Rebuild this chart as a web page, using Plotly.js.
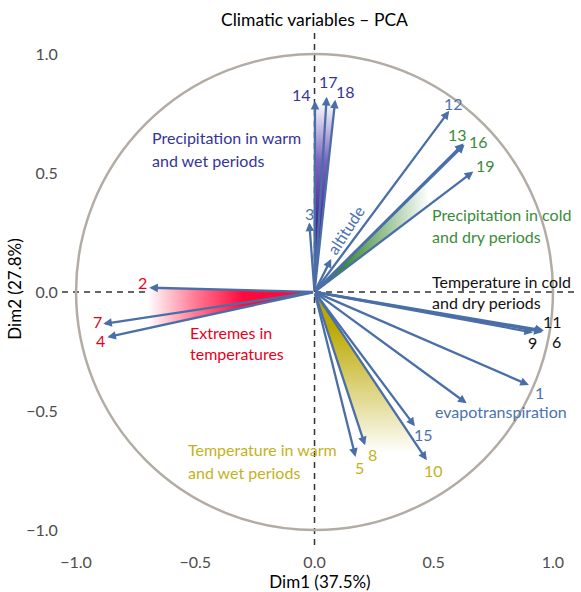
<!DOCTYPE html>
<html>
<head>
<meta charset="utf-8">
<script src="https://cdn.plot.ly/plotly-3.0.1.min.js"></script>
<style>html,body{margin:0;padding:0;background:#fff;}#chart{width:581px;height:592px;}</style>
</head>
<body>
<div id="chart"></div>
<script>
// ---- data ----
const varNames = ['1','2','3','4','5','6','7','8','9','10','11','12','13','14','15','16','17','18','19','altitude','evapotranspiration'];
const dim1 = [0.899,-0.693,-0.022,-0.869,0.172,0.957,-0.886,0.212,0.916,0.471,0.962,0.565,0.625,0.002,0.421,0.629,0.051,0.087,0.666,0.070,0.638];
const dim2 = [-0.391,0.018,0.292,-0.190,-0.693,-0.168,-0.134,-0.644,-0.170,-0.707,-0.162,0.761,0.624,0.803,-0.564,0.619,0.820,0.808,0.506,0.139,-0.468];
const varGroup = ['steel','red','steel','red','olive','black','red','olive','black','olive','black','steel','green','purple','steel','green','purple','purple','green','none','none'];
const xTickVals = [-1,-0.5,0,0.5,1];
const tickText = ['\u22121.0','\u22120.5','0.0','0.5','1.0'];
const yTickVals = [-1,-0.5,0,0.5,1];
const groupTexts = {
  purple: ['Precipitation in warm','and wet periods'],
  green: ['Precipitation in cold','and dry periods'],
  black: ['Temperature in cold','and dry periods'],
  red: ['Extremes in','temperatures'],
  olive: ['Temperature in warm','and wet periods']
};
const titleText = 'Climatic variables \u2013 PCA';
const xTitle = 'Dim1 (37.5%)';
const yTitle = 'Dim2 (27.8%)';

// ---- styles ----
const FONT = 'Lato, "Open Sans", sans-serif';
const colors = {steel:'#4A72AE', red:'#E8001C', olive:'#C4B21C', black:'#111111', green:'#3A8B3A', purple:'#35359A'};
const ARROW = '#4A6FA8';
// pixel offsets of the number labels from the arrow tips
const labelOffsets = {
  '1':[11,-7],'2':[-7,5],'3':[0,9],'4':[-7,-3],'5':[4,-11],'6':[14,-10],'7':[-6,2],'8':[7,-9],
  '9':[0,-10],'10':[7,-10],'11':[9,9],'12':[4,7],'13':[-6,9],'14':[-13,6],'15':[9,-8],
  '16':[14,3],'17':[2,15],'18':[10,8],'19':[12,6]
};
// pixel -> data helpers for free text placement
const X = px => (px - 314.5) / 238.5;
const Y = py => (292 - py) / 238;

const idx = n => varNames.indexOf(n);
const along = (n, f) => [dim1[idx(n)] * f, dim2[idx(n)] * f];
function poly(pts){ return {x: pts.map(p=>p[0]).concat([pts[0][0]]), y: pts.map(p=>p[1]).concat([pts[0][1]])}; }

const traces = [];
function gradTrace(pts, grad){
  const p = poly(pts);
  traces.push({type:'scatter', mode:'lines', x:p.x, y:p.y, fill:'toself', line:{width:0, color:'rgba(0,0,0,0)'},
    fillgradient:grad, hoverinfo:'skip', showlegend:false});
}
gradTrace([[0,0], along('2',1.0), along('4',0.80)],
  {type:'horizontal', start:-0.70, stop:-0.30, colorscale:[[0,'rgba(255,255,255,1)'],[0.5,'#FF7A94'],[1,'#FF0A3C']]});
gradTrace([[0,0], along('14',1.0), along('18',1.0)],
  {type:'vertical', start:0.30, stop:0.80, colorscale:[[0,'#4A2A98'],[0.5,'#7A64BC'],[1,'rgba(255,255,255,1)']]});
gradTrace([[0,0], along('16',0.77), along('19',0.72)],
  {type:'horizontal', start:0.12, stop:0.48, colorscale:[[0,'#3A8A30'],[1,'rgba(255,255,255,1)']]});
gradTrace([[0,0], along('8',1.04), along('10',0.95)],
  {type:'vertical', start:-0.68, stop:-0.14, colorscale:[[0,'rgba(255,255,255,1)'],[1,'#BBA800']]});

const annotations = [];
// arrows
varNames.forEach((n,i)=>{
  annotations.push({x:dim1[i], y:dim2[i], xref:'x', yref:'y', ax:0, ay:0, axref:'x', ayref:'y',
    text:'', showarrow:true, arrowhead:2, arrowsize:0.75, arrowwidth:2.3, arrowcolor:ARROW, standoff:0});
});
// number labels
varNames.forEach((n,i)=>{
  if(!labelOffsets[n]) return;
  annotations.push({x:dim1[i], y:dim2[i], xref:'x', yref:'y', text:n, showarrow:false,
    xshift:labelOffsets[n][0], yshift:labelOffsets[n][1],
    font:{family:FONT, size:16, color:colors[varGroup[i]]}});
});
// group texts
function textLine(t, pxL, pyC, color){
  annotations.push({x:X(pxL), y:Y(pyC), xref:'x', yref:'y', text:t, showarrow:false, xanchor:'left', yanchor:'middle',
    font:{family:FONT, size:16, color:color}});
}
textLine(groupTexts.purple[0],150,138,colors.purple); textLine(groupTexts.purple[1],150,161,colors.purple);
textLine(groupTexts.green[0],430,215,colors.green); textLine(groupTexts.green[1],430,237,colors.green);
textLine(groupTexts.black[0],430,282,colors.black); textLine(groupTexts.black[1],430,303,colors.black);
textLine(groupTexts.red[0],188,333,colors.red); textLine(groupTexts.red[1],188,354,colors.red);
textLine(groupTexts.olive[0],186,450,colors.olive); textLine(groupTexts.olive[1],186,472,colors.olive);
textLine('evapotranspiration',433,412,colors.steel);
annotations.push({x:X(346), y:Y(230), xref:'x', yref:'y', text:'altitude', showarrow:false, textangle:-57,
  font:{family:FONT, size:16, color:colors.steel}});

const shapes = [
  {type:'circle', xref:'x', yref:'y', x0:-1, x1:1, y0:-1, y1:1, line:{color:'#B3ACA5', width:2.5}, layer:'below'},
  {type:'line', xref:'paper', yref:'y', x0:0, x1:1, y0:0, y1:0, line:{color:'#333333', width:1.5, dash:'6px,5px'}, layer:'below'},
  {type:'line', xref:'x', yref:'paper', x0:0, x1:0, y0:0, y1:1, line:{color:'#333333', width:1.5, dash:'6px,5px'}, layer:'below'}
];

const axisCommon = {showgrid:false, zeroline:false, showline:false, ticks:'outside', tickcolor:'rgba(0,0,0,0)',
  tickfont:{family:FONT, size:16, color:'#4D4D4D'}, ticktext:tickText, tickmode:'array', fixedrange:true};

const layout = {
  width:581, height:592, margin:{l:62, r:3, t:33, b:47},
  paper_bgcolor:'#ffffff', plot_bgcolor:'#ffffff', showlegend:false,
  title:{text:titleText, x:314.5/581, xref:'container', xanchor:'center', y:1-20/592, yref:'container', yanchor:'middle',
    font:{family:FONT, size:17.5, color:'#000000'}},
  xaxis:Object.assign({}, axisCommon, {range:[-1.059,1.105], tickvals:xTickVals, ticklen:3,
    title:{text:xTitle, standoff:0, font:{family:FONT, size:17, color:'#000000'}}}),
  yaxis:Object.assign({}, axisCommon, {range:[-1.063,1.088], tickvals:yTickVals, ticklen:0,
    title:{text:yTitle, standoff:0, font:{family:FONT, size:17, color:'#000000'}}}),
  shapes:shapes, annotations:annotations
};

Plotly.newPlot('chart', traces, layout, {displayModeBar:false, staticPlot:true});
</script>
</body>
</html>
